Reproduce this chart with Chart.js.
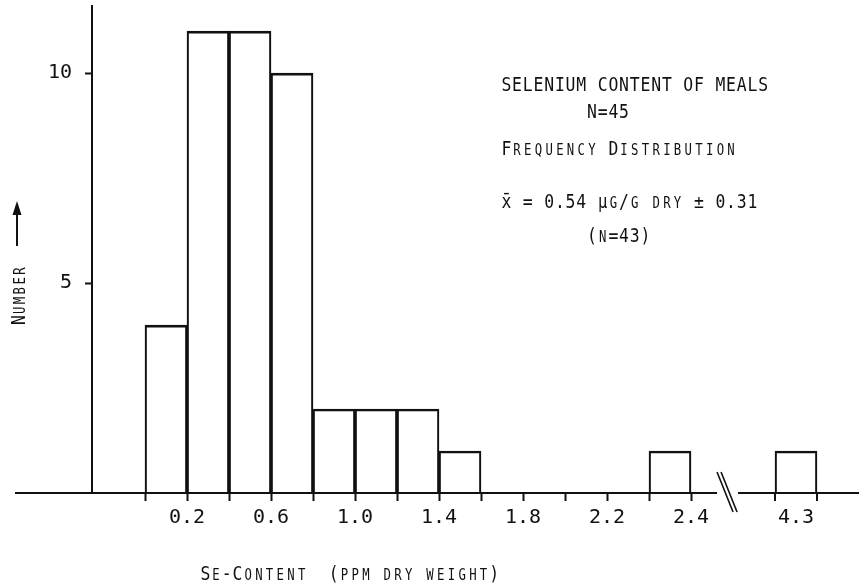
<!DOCTYPE html>
<html lang="en">
<head>
    <meta charset="UTF-8">
    <title>Selenium content of meals</title>
    <script src="https://cdn.jsdelivr.net/npm/chart.js"></script>
    <style>
        body { margin: 0; background: #fff; }
        #wrap { width: 863px; height: 587px; position: relative; }
    </style>
</head>
<body>
    <div id="wrap"><canvas id="histChart"></canvas></div>

    <script>
        // bins are 0.2 ppm wide; slot = bin number along the drawn axis (axis is broken after 2.4)
        const binSlot = [0, 1, 2, 3, 4, 5, 6, 7, 12, 15];
        const counts = [4, 11, 11, 10, 2, 2, 2, 1, 1, 1];

        // x axis: tick marks, and the typed labels
        const tickMarkSlots = [0, 1, 2, 3, 4, 5, 6, 7, 8, 9, 10, 11, 12, 13];
        const farTickSlots = [15, 16];   // marks on the far side of the break
        const labelSlots = [1, 3, 5, 7, 9, 11, 13, 15.5];
        const labelText = ['0.2', '0.6', '1.0', '1.4', '1.8', '2.2', '2.4', '4.3'];
        const yTicks = [5, 10];
        const breakSlots = [13.62, 14.12];

        const INK = '#111';
        const MONO = '"DejaVu Sans Mono"';

        // typewriter style: fixed pitch, lowercase letters come out as small caps
        function typeLine(ctx, str, x, y, pitch) {
            const chars = Array.from(str);
            ctx.textAlign = 'center';
            ctx.textBaseline = 'alphabetic';
            ctx.fillStyle = INK;
            let col = 0;
            for (let i = 0; i < chars.length; i++) {
                let ch = chars[i];
                let size = 20;
                if (chars[i + 1] === '\u0304') {
                    ch = ch + '\u0304';
                    i++;
                } else if (ch === 'μ') {
                    size = 19;
                } else if (ch !== ch.toUpperCase()) {
                    ch = ch.toUpperCase();
                    size = 15;
                }
                if (ch !== ' ') {
                    ctx.save();
                    ctx.font = size + 'px ' + MONO;
                    ctx.translate(x + col * pitch + pitch / 2, y);
                    ctx.scale(0.82, 1);
                    ctx.fillText(ch, 0, 0);
                    ctx.restore();
                }
                col++;
            }
        }

        const decorations = {
            id: 'decorations',
            afterDraw(chart) {
                const ctx = chart.ctx;
                const xs = chart.scales.x;
                const y0 = chart.scales.y.getPixelForValue(0);
                ctx.save();
                ctx.strokeStyle = INK;
                ctx.lineWidth = 2;

                // baseline continues left of the y axis
                ctx.beginPath();
                ctx.moveTo(15, y0);
                ctx.lineTo(chart.chartArea.left, y0);
                ctx.stroke();

                // tick marks beyond the break
                farTickSlots.forEach(s => {
                    const px = xs.getPixelForValue(s);
                    ctx.beginPath();
                    ctx.moveTo(px, y0);
                    ctx.lineTo(px, y0 + 8);
                    ctx.stroke();
                });

                // axis break
                const b0 = xs.getPixelForValue(breakSlots[0]);
                const b1 = xs.getPixelForValue(breakSlots[1]);
                ctx.fillStyle = '#fff';
                ctx.fillRect(b0, y0 - 3, b1 - b0, 6);
                ctx.lineWidth = 1.6;
                [0, 4].forEach(dx => {
                    ctx.beginPath();
                    ctx.moveTo(b0 + dx, y0 - 21);
                    ctx.lineTo(b0 + dx + 16, y0 + 19);
                    ctx.stroke();
                });

                // y title with arrow
                ctx.lineWidth = 2;
                ctx.beginPath();
                ctx.moveTo(17, 246);
                ctx.lineTo(17, 212);
                ctx.stroke();
                ctx.fillStyle = INK;
                ctx.beginPath();
                ctx.moveTo(17, 201);
                ctx.lineTo(12.5, 215);
                ctx.lineTo(21.5, 215);
                ctx.closePath();
                ctx.fill();

                ctx.save();
                ctx.translate(25, 325);
                ctx.rotate(-Math.PI / 2);
                typeLine(ctx, 'Number', 0, 0, 9.8);
                ctx.restore();

                // x title
                typeLine(ctx, 'Se-Content  (ppm dry weight)', 200, 580, 10.7);

                // caption block
                typeLine(ctx, 'SELENIUM CONTENT OF MEALS', 501, 91, 10.7);
                typeLine(ctx, '        N=45', 501, 118, 10.7);
                typeLine(ctx, 'Frequency Distribution', 501, 155, 10.7);
                typeLine(ctx, 'x\u0304 = 0.54 μg/g dry ± 0.31', 501, 208, 10.7);
                typeLine(ctx, '        (n=43)', 501, 242, 10.7);
                ctx.restore();
            }
        };

        new Chart(document.getElementById('histChart'), {
            type: 'bar',
            data: {
                datasets: [{
                    data: binSlot.map((s, i) => ({ x: s + 0.5, y: counts[i] })),
                    backgroundColor: 'rgba(0,0,0,0)',
                    borderColor: INK,
                    borderWidth: { top: 2, right: 1.5, bottom: 0, left: 1.5 },
                    borderSkipped: 'start',
                    barPercentage: 1,
                    categoryPercentage: 1
                }]
            },
            options: {
                responsive: true,
                maintainAspectRatio: false,
                animation: false,
                layout: { padding: { top: 6, right: 5, bottom: 0, left: 0 } },
                plugins: { legend: { display: false }, tooltip: { enabled: false } },
                scales: {
                    x: {
                        type: 'linear',
                        min: -1.262,
                        max: 16.976,
                        offset: false,
                        afterFit: s => {
                            s.height = 94;
                            s.paddingLeft = 0;
                            s.paddingRight = 0;
                        },
                        afterBuildTicks: s => {
                            const vals = Array.from(new Set(tickMarkSlots.concat(labelSlots))).sort((a, b) => a - b);
                            s.ticks = vals.map(v => ({ value: v }));
                        },
                        grid: {
                            offset: false,
                            drawOnChartArea: false,
                            drawTicks: true,
                            tickLength: 8,
                            tickWidth: 2,
                            tickColor: c => (c.tick && tickMarkSlots.includes(c.tick.value)) ? INK : 'rgba(0,0,0,0)'
                        },
                        border: { display: true, color: INK, width: 2 },
                        ticks: {
                            autoSkip: false,
                            maxRotation: 0,
                            padding: 5,
                            color: INK,
                            font: { family: 'DejaVu Sans Mono', size: 20 },
                            callback: v => {
                                const k = labelSlots.indexOf(v);
                                return k >= 0 ? labelText[k] : '';
                            }
                        }
                    },
                    y: {
                        min: 0,
                        max: 11.6,
                        afterFit: s => {
                            s.width = 92;
                            s.paddingTop = 0;
                            s.paddingBottom = 0;
                        },
                        afterBuildTicks: s => { s.ticks = yTicks.map(v => ({ value: v })); },
                        grid: {
                            drawOnChartArea: false,
                            drawTicks: true,
                            tickLength: 7,
                            tickWidth: 2,
                            tickColor: INK
                        },
                        border: { display: true, color: INK, width: 2 },
                        ticks: {
                            padding: 13,
                            color: INK,
                            font: { family: 'DejaVu Sans Mono', size: 20 }
                        }
                    }
                }
            },
            plugins: [decorations]
        });
    </script>
</body>
</html>
